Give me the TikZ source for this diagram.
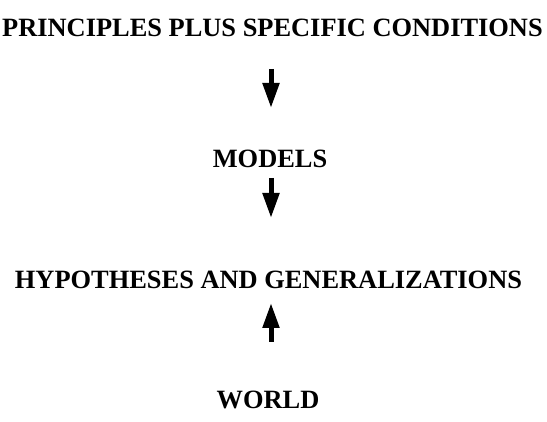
\documentclass[tikz,border=0pt]{standalone}
\usepackage{fontspec}
\setmainfont{Liberation Serif}
\usetikzlibrary{arrows.meta}

\begin{document}
\begin{tikzpicture}[x=1pt,y=-1pt,
    label/.style={inner sep=0pt,anchor=base,font=\bfseries\fontsize{26.4}{30}\selectfont},
    fatarrow/.style={line width=5pt,-{Triangle[length=25pt,width=16pt]}}]
    \useasboundingbox (0,0) rectangle (547,422);
    %
    \node[label] (principles) at (272.5,37) {PRINCIPLES PLUS SPECIFIC CONDITIONS};
    \node[label] (models) at (270,168) {MODELS};
    \node[label] (hypotheses) at (268.5,289) {HYPOTHESES AND GENERALIZATIONS};
    \node[label] (world) at (268,409) {WORLD};
    %
    \coordinate (pm) at (271,69);
    \coordinate (mp) at (271,108);
    \coordinate (mh) at (271,178);
    \coordinate (hm) at (271,218);
    \coordinate (wh) at (271,342);
    \coordinate (hw) at (271,303);
    %
    \draw[fatarrow] (pm) -- (mp);
    \draw[fatarrow] (mh) -- (hm);
    \draw[fatarrow] (wh) -- (hw);
\end{tikzpicture}
\end{document}
